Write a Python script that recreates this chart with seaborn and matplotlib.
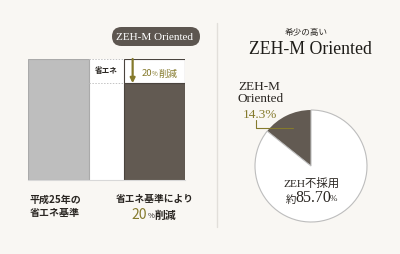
import numpy as np
import pandas as pd
import matplotlib
matplotlib.use("Agg")
import matplotlib.pyplot as plt
from matplotlib.patches import FancyBboxPatch
from matplotlib.transforms import IdentityTransform
import seaborn as sns

# ---- data ----
bar_categories = ["平成25年の\n省エネ基準", "省エネ基準により"]
bar_values = [100, 80]
reduction_pct = "20"
pie_labels = ["ZEH-M\nOriented", "ZEH不採用"]
pie_values = [14.3, 85.7]
pie_value_texts = ["14.3%", "85.70"]

sns.set_theme(style="white")
SERIF = ["Liberation Serif", "Noto Sans CJK JP"]
SANS = ["Noto Sans CJK JP", "DejaVu Sans"]
plt.rcParams["font.family"] = SANS

BG = "#f9f7f3"
GRAY = "#bebebe"
DARK = "#625a52"
OLIVE = "#857a2c"
TXT = "#2a2622"

W, H = 400, 255
fig = plt.figure(figsize=(4.0, 2.55), dpi=100, facecolor=BG)

def fx(px):
    return px / W

def fy(py):
    return 1 - py / H

# ---- left: bars ----
bw = 61 / 96
ax = fig.add_axes([fx(28), fy(181), fx(185 - 28), (181 - 60) / H])
ax.set_facecolor("white")
df = pd.DataFrame({"cat": bar_categories, "val": bar_values})
sns.barplot(data=df, x="cat", y="val", hue="cat", palette=[GRAY, DARK],
            width=bw, ax=ax, legend=False, saturation=1)
for p, ec in zip(ax.patches, ["#aaaaaa", "#4a443e"]):
    p.set_edgecolor(ec)
    p.set_linewidth(0.8)
red = bar_values[0] - bar_values[1]
ax.bar(1, red, bottom=bar_values[1], width=bw, color="white",
       edgecolor="#4a443e", linewidth=0.8)
ax.set_xlim(-bw / 2, 1 + bw / 2)
ax.set_ylim(0, bar_values[0])
for v in bar_values:
    ax.plot([bw / 2, 1 - bw / 2], [v, v], ls=(0, (1.5, 1.5)),
            color="#c4c4c4", lw=0.7, clip_on=False)
for s in ["top", "left", "right"]:
    ax.spines[s].set_visible(False)
ax.spines["bottom"].set_color("#d8d8d8")
ax.spines["bottom"].set_linewidth(0.8)
ax.set_xticks([])
ax.set_yticks([])
ax.set_xlabel("")
ax.set_ylabel("")
ax.annotate("", xy=(1 - bw / 2 + 0.09, bar_values[1]),
            xytext=(1 - bw / 2 + 0.09, bar_values[0]),
            arrowprops=dict(arrowstyle="-|>", color=OLIVE, lw=1.6,
                            mutation_scale=7, shrinkA=0, shrinkB=0))
ymid = (bar_values[0] + bar_values[1]) / 2
ax.text(0.5, ymid + 1, "省エネ", ha="center", va="center", fontsize=5.5,
        fontweight="bold", color=TXT)
fig.text(fx(152), fy(74), reduction_pct, ha="right", va="center",
         fontsize=6.8, color=OLIVE)
fig.text(fx(152), fy(74.5), "%", ha="left", va="center",
         fontsize=4.5, color=OLIVE)
fig.text(fx(158), fy(74), "削減", ha="left", va="center",
         fontsize=6.8, color=OLIVE)

# pill
pill = FancyBboxPatch((112, H - 47), 88, 19,
                      boxstyle="round,pad=0,rounding_size=9.5",
                      transform=IdentityTransform(), facecolor="#5d5650",
                      edgecolor="none")
fig.add_artist(pill)
fig.text(fx(155), fy(37.5), "ZEH-M Oriented", ha="center", va="center",
         color="white", fontsize=8, family=SERIF)

# bottom labels
fig.text(fx(55), fy(206.5), bar_categories[0], ha="center", va="center",
         fontsize=7.2, fontweight="bold", color=TXT, linespacing=1.5)
fig.text(fx(155), fy(199), bar_categories[1], ha="center", va="center",
         fontsize=7.0, fontweight="bold", color=TXT)
fig.text(fx(147), fy(215), reduction_pct, ha="right", va="center",
         fontsize=10, color=OLIVE)
fig.text(fx(147.5), fy(216), "%", ha="left", va="center",
         fontsize=5.5, color=TXT)
fig.text(fx(155), fy(215.5), "削減", ha="left", va="center",
         fontsize=7.8, fontweight="bold", color=TXT)

# divider
fig.add_artist(plt.Line2D([fx(217), fx(217)], [fy(24), fy(228)],
                          transform=fig.transFigure, color="#e2dfda", lw=1))

# ---- right: pie ----
R = 56
cx, cy = 311, 167
pax = fig.add_axes([fx(cx - R), fy(cy + R), fx(2 * R), 2 * R / H])
wedges, _ = pax.pie(pie_values, colors=[DARK, "white"], startangle=90,
                    counterclock=True, radius=1,
                    wedgeprops=dict(linewidth=0))
wedges[1].set_edgecolor("#bdbdbd")
wedges[1].set_linewidth(0.8)
pax.set_xlim(-1, 1)
pax.set_ylim(-1, 1)
pax.set_aspect("equal")
pax.axis("off")

mid = np.deg2rad(90 + pie_values[0] / sum(pie_values) * 360 / 2)
apx, apy = 0.76 * np.cos(mid), 0.76 * np.sin(mid)
lx = -0.98
pax.plot([apx, lx, lx], [apy, apy, apy + 0.13],
         color=OLIVE, lw=0.8, clip_on=False)

fig.text(fx(306), fy(32), "希少の高い", ha="center", va="center",
         fontsize=6.2, color=TXT)
fig.text(fx(310), fy(49), "ZEH-M Oriented", ha="center", va="center",
         fontsize=12.8, color="#1e1c18", family=SERIF)
fig.text(fx(238), fy(93), pie_labels[0], ha="left", va="center",
         fontsize=9.5, color=TXT, family=SERIF, linespacing=1.05)
fig.text(fx(243), fy(115), pie_value_texts[0], ha="left", va="center",
         fontsize=9.5, color=OLIVE, family=SERIF)
fig.text(fx(311), fy(183), pie_labels[1], ha="center", va="center",
         fontsize=8.2, color=TXT, family=SERIF)
fig.text(fx(296), fy(199.5), "約", ha="right", va="center",
         fontsize=7.5, color=TXT)
fig.text(fx(313), fy(198.5), pie_value_texts[1], ha="center", va="center",
         fontsize=11.5, color=TXT, family=SERIF)
fig.text(fx(330), fy(199.5), "%", ha="left", va="center",
         fontsize=6.5, color=TXT, family=SERIF)

fig.savefig("out.png", dpi=100, facecolor=BG)
